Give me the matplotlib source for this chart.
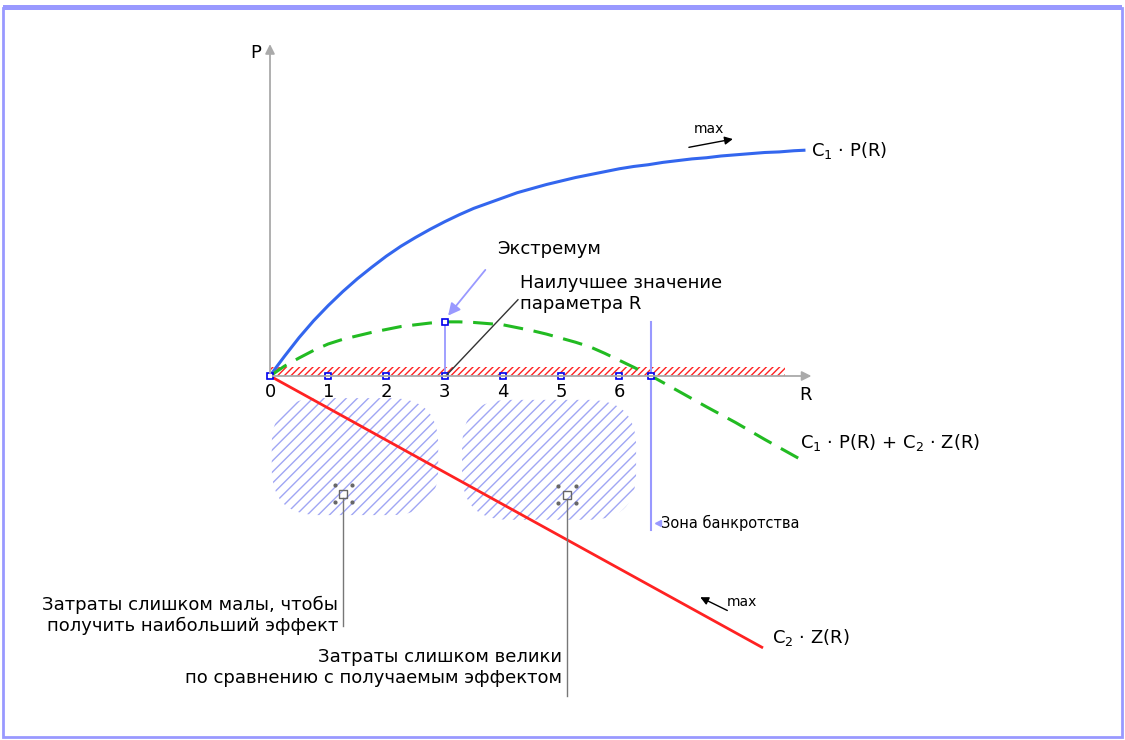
import matplotlib
matplotlib.use("Agg")
import matplotlib.pyplot as plt
from matplotlib.patches import FancyBboxPatch, Rectangle

# R axis ticks
r_ticks = [0, 1, 2, 3, 4, 5, 6]
tick_labels = ["0", "1", "2", "3", "4", "5", "6"]

# C1*P(R): effect curve
r_effect = [0, 0.1, 0.25, 0.5, 0.75, 1, 1.25, 1.5, 1.75, 2, 2.25, 2.5, 2.75, 3, 3.25, 3.5,
            3.75, 4, 4.25, 4.5, 4.75, 5, 5.25, 5.5, 5.75, 6, 6.25, 6.5, 6.75, 7, 7.25,
            7.5, 7.75, 8, 8.25, 8.5, 8.75, 9.0, 9.2]
p_effect = [0, 0.14, 0.34, 0.66, 0.95, 1.21, 1.45, 1.67, 1.87, 2.06, 2.23, 2.38, 2.52,
            2.65, 2.77, 2.88, 2.97, 3.06, 3.15, 3.22, 3.29, 3.35, 3.41, 3.46, 3.51, 3.56,
            3.60, 3.63, 3.67, 3.70, 3.73, 3.75, 3.78, 3.80, 3.82, 3.84, 3.85, 3.87, 3.88]

# C1*P(R) + C2*Z(R): total curve
r_total = [0, 0.25, 0.5, 0.75, 1, 1.25, 1.5, 1.75, 2, 2.25, 2.5, 2.75, 3, 3.25, 3.5, 3.75,
           4, 4.25, 4.5, 4.75, 5, 5.25, 5.5, 5.75, 6, 6.25, 6.55, 7, 7.5, 8, 8.5, 9.2]
p_total = [0, 0.17, 0.31, 0.44, 0.55, 0.63, 0.69, 0.75, 0.80, 0.85, 0.88, 0.91, 0.93,
           0.93, 0.92, 0.90, 0.88, 0.83, 0.78, 0.72, 0.65, 0.58, 0.50, 0.39, 0.27, 0.15,
           0, -0.25, -0.53, -0.80, -1.09, -1.48]

# C2*Z(R): cost line
r_cost = [0, 8.45]
p_cost = [0, -4.66]

r_extremum, p_extremum = 3, 0.93
r_bankrupt = 6.55

BLUE = "#3366ee"
GREEN = "#22bb22"
RED = "#ff2222"
LIGHT = "#9999ff"
GRAY = "#aaaaaa"
FS = 13

fig = plt.figure(figsize=(11.25, 7.4), dpi=100)
ax = fig.add_axes([0, 0, 1, 1])
ax.set_xlim(-4.639, 14.69)
ax.set_ylim(-6.254, 6.46)
ax.axis("off")
plt.rcParams["hatch.linewidth"] = 1.0

# outer frame
fig.patches.append(Rectangle((0.003, 0.004), 0.994, 0.985, transform=fig.transFigure,
                             fill=False, edgecolor=LIGHT, linewidth=2))
fig.patches.append(Rectangle((0.003, 0.986), 0.994, 0.007, transform=fig.transFigure,
                             facecolor=LIGHT, edgecolor="none"))

# hatched zones under the axis
for x0, x1, y0, y1 in [(0.03, 2.89, -2.39, -0.38), (3.3, 6.29, -2.47, -0.41)]:
    pad = 0.8
    ax.add_patch(FancyBboxPatch((x0 + pad, y0 + pad), x1 - x0 - 2 * pad, y1 - y0 - 2 * pad,
                                boxstyle="round,pad=%g" % pad, facecolor="none",
                                edgecolor="#a0a6f4", linewidth=0, hatch="///"))

# red hatched band along R axis
ax.fill_between([0, 8.85], 0, 0.15, facecolor="none", edgecolor=RED, linewidth=0,
                hatch="/////")

# axes with arrows
ax.annotate("", xy=(9.35, 0), xytext=(0, 0),
            arrowprops=dict(arrowstyle="-|>", color=GRAY, lw=1.3, mutation_scale=14))
ax.annotate("", xy=(0, 5.75), xytext=(0, 0),
            arrowprops=dict(arrowstyle="-|>", color=GRAY, lw=1.3, mutation_scale=14))
ax.text(-0.25, 5.55, "P", fontsize=FS, ha="center", va="center")
ax.text(9.2, -0.32, "R", fontsize=FS, ha="center", va="center")

# curves
ax.plot(r_effect, p_effect, color=BLUE, lw=2.2, solid_capstyle="butt")
ax.plot(r_total, p_total, color=GREEN, lw=2.2, dashes=(6.5, 3.5))
ax.plot(r_cost, p_cost, color=RED, lw=2.0)

# extremum and bankruptcy lines
ax.plot([r_extremum, r_extremum], [0, p_extremum], color=LIGHT, lw=1.3)
ax.plot([r_bankrupt, r_bankrupt], [p_extremum, -2.65], color=LIGHT, lw=1.5)

# square markers on axis
ax.plot(r_ticks + [r_bankrupt], [0] * (len(r_ticks) + 1), ls="none", marker="s", ms=4.5,
        mfc="white", mec="#0000ee", mew=1.2)
ax.plot([r_extremum], [p_extremum], ls="none", marker="s", ms=4.5,
        mfc="white", mec="#0000ee", mew=1.2)
for r, lab in zip(r_ticks, tick_labels):
    ax.text(r, -0.28, lab, fontsize=FS, ha="center", va="center")

# curve labels
ax.text(9.3, 3.87, r"C$_1$ · P(R)", fontsize=FS, va="center")
ax.text(9.1, -1.15, r"C$_1$ · P(R) + C$_2$ · Z(R)", fontsize=FS, va="center")
ax.text(8.63, -4.5, r"C$_2$ · Z(R)", fontsize=FS, va="center")

# "max" direction arrows
ax.annotate("", xy=(8.0, 4.08), xytext=(7.15, 3.92),
            arrowprops=dict(arrowstyle="-|>", color="black", lw=1.0, mutation_scale=12))
ax.text(7.55, 4.25, "max", fontsize=10, ha="center", va="center")
ax.annotate("", xy=(7.35, -3.78), xytext=(7.9, -4.05),
            arrowprops=dict(arrowstyle="-|>", color="black", lw=1.0, mutation_scale=12))
ax.text(7.85, -3.88, "max", fontsize=10, va="center")

# extremum callout
ax.annotate("", xy=(3.03, 1.0), xytext=(3.73, 1.86),
            arrowprops=dict(arrowstyle="-|>", color=LIGHT, lw=1.3, mutation_scale=18))
ax.text(3.9, 2.18, "Экстремум", fontsize=FS, va="center")

# best value callout
ax.plot([3.02, 4.26], [0, 1.31], color="#333333", lw=1.0)
ax.text(4.3, 1.6, "Наилучшее значение", fontsize=FS, va="center")
ax.text(4.3, 1.23, "параметра R", fontsize=FS, va="center")

# bankruptcy zone label
ax.plot([6.66], [-2.52], ls="none", marker="<", ms=5, color=LIGHT)
ax.text(6.72, -2.52, "Зона банкротства", fontsize=10.5, va="center")

# zone markers and leader lines
for rx, ry, y_end in [(1.26, -2.02, -4.3), (5.1, -2.04, -5.5)]:
    ax.plot([rx, rx], [ry - 0.08, y_end], color="#777777", lw=1.0)
    ax.plot([rx], [ry], ls="none", marker="s", ms=6, mfc="none", mec="#666666", mew=1.0)
    ax.plot([rx - 0.15, rx + 0.15, rx - 0.15, rx + 0.15],
            [ry - 0.15, ry + 0.15, ry + 0.15, ry - 0.15],
            ls="none", marker="o", ms=2, color="#666666")

ax.text(1.17, -3.93, "Затраты слишком малы, чтобы", fontsize=FS, ha="right", va="center")
ax.text(1.17, -4.29, "получить наибольший эффект", fontsize=FS, ha="right", va="center")
ax.text(5.02, -4.82, "Затраты слишком велики", fontsize=FS, ha="right", va="center")
ax.text(5.02, -5.19, "по сравнению с получаемым эффектом", fontsize=FS, ha="right",
        va="center")

fig.savefig("out.png", dpi=100)
